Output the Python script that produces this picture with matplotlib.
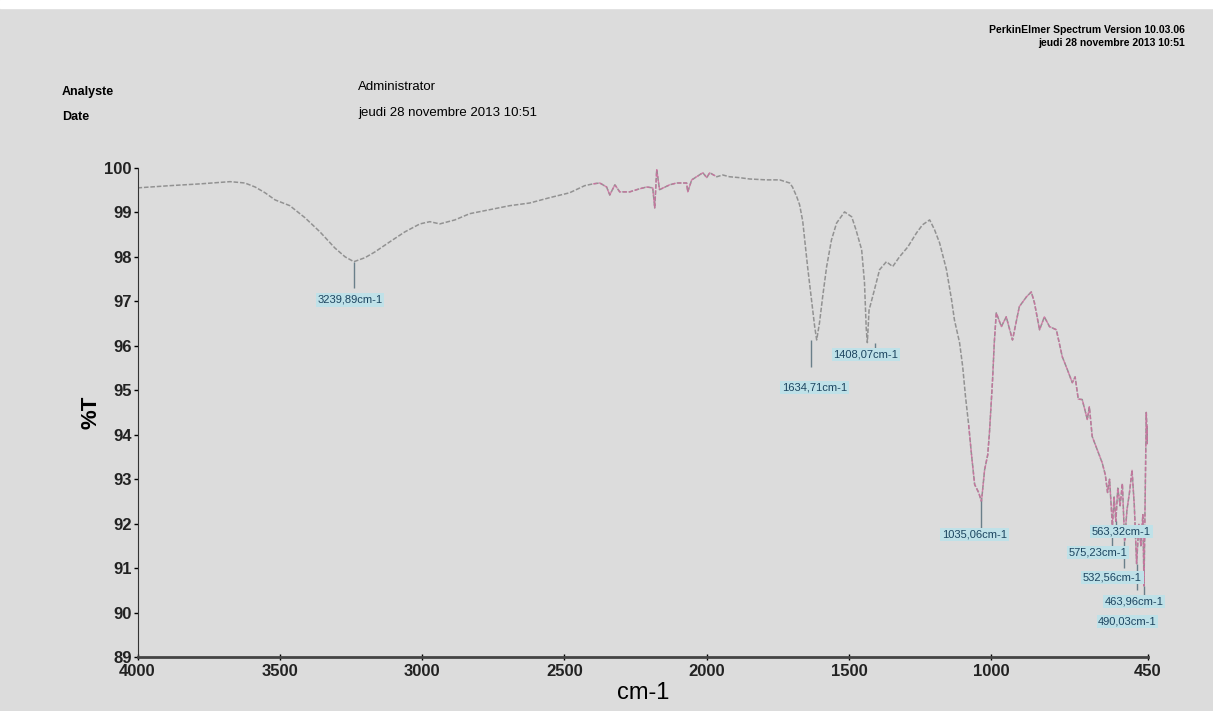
import numpy as np
import matplotlib.pyplot as plt
from matplotlib.patches import Rectangle

# spectre IR
wn = [4000, 3886, 3780, 3675, 3623, 3587, 3552, 3517, 3465, 3412, 3359, 3307,
      3271, 3240, 3201, 3166, 3113, 3061, 3008, 2973, 2938, 2885, 2833, 2762,
      2692, 2622, 2552, 2482, 2429, 2400, 2376, 2352, 2341, 2323, 2306, 2271,
      2236, 2211, 2190, 2183, 2176, 2166, 2130, 2106, 2071, 2067, 2053, 2036,
      2014, 2000, 1990, 1965, 1944, 1920, 1885, 1850, 1790, 1744, 1709, 1699,
      1684, 1674, 1663, 1646, 1632, 1621, 1614, 1604, 1593, 1579, 1562, 1544,
      1516, 1491, 1476, 1456, 1446, 1440, 1436, 1430, 1411, 1393, 1369, 1347,
      1323, 1294, 1263, 1242, 1217, 1200, 1182, 1158, 1140, 1130, 1112, 1101,
      1091, 1080, 1070, 1059, 1045, 1035, 1024, 1013, 1007, 996, 990, 983,
      965, 948, 926, 902, 877, 860, 849, 831, 814, 796, 772, 751, 733, 716,
      706, 695, 681, 663, 656, 646, 628, 611, 600, 592, 585, 575, 569, 563,
      556, 548, 540, 532, 524, 515, 506, 498, 490, 482, 475, 468, 464, 460,
      456, 452, 450]
trans = [99.55, 99.60, 99.64, 99.69, 99.66, 99.57, 99.44, 99.28, 99.15, 98.88, 98.56, 98.20,
         98.00, 97.89, 97.98, 98.11, 98.34, 98.56, 98.74, 98.79, 98.74, 98.83, 98.97, 99.06,
         99.15, 99.21, 99.33, 99.44, 99.60, 99.64, 99.66, 99.57, 99.39, 99.62, 99.46, 99.46,
         99.53, 99.57, 99.55, 99.10, 99.96, 99.51, 99.62, 99.66, 99.66, 99.46, 99.73, 99.80,
         99.89, 99.78, 99.89, 99.80, 99.84, 99.80, 99.78, 99.75, 99.73, 99.73, 99.66, 99.57,
         99.35, 99.17, 98.80, 97.78, 97.03, 96.43, 96.13, 96.52, 97.10, 97.78, 98.38, 98.76,
         99.01, 98.90, 98.61, 98.16, 97.42, 96.40, 96.07, 96.80, 97.26, 97.71, 97.89, 97.78,
         98.00, 98.22, 98.54, 98.72, 98.83, 98.61, 98.31, 97.71, 97.03, 96.58, 96.07, 95.53,
         94.85, 94.22, 93.55, 92.88, 92.70, 92.50, 93.21, 93.55, 94.04, 95.24, 96.07, 96.74,
         96.43, 96.65, 96.13, 96.88, 97.10, 97.21, 96.97, 96.36, 96.65, 96.43, 96.36, 95.75,
         95.46, 95.17, 95.30, 94.80, 94.79, 94.34, 94.63, 93.96, 93.66, 93.37, 93.10, 92.70,
         93.00, 91.95, 92.60, 92.05, 92.80, 92.40, 92.90, 91.60, 92.30, 92.70, 93.20, 92.40,
         91.10, 92.00, 91.50, 92.20, 90.60, 92.50, 94.50, 93.80, 94.20]

# pics annotés
pic_wn = [3239.89, 1634.71, 1408.07, 1035.06, 575.23, 563.32, 532.56, 490.03, 463.96]
pic_txt = ["3239,89cm-1", "1634,71cm-1", "1408,07cm-1", "1035,06cm-1", "575,23cm-1",
           "563,32cm-1", "532,56cm-1", "490,03cm-1", "463,96cm-1"]
pic_T = [97.89, 96.13, 96.07, 92.50, 91.95, 92.05, 91.60, 91.10, 90.60]
lab_x = [3254, 1621, 1442, 1059, 627, 543, 575, 522, 498]
lab_y = [97.03, 95.06, 95.80, 91.75, 91.35, 91.82, 90.79, 89.80, 90.25]

wn = np.array(wn)
trans = np.array(trans)

plt.rcParams['font.family'] = ['Liberation Sans', 'DejaVu Sans']
bg = "#dcdcdc"
fig = plt.figure(figsize=(12.13, 7.11), dpi=100, facecolor=bg)
ax = fig.add_axes([0.1134, 0.0759, 0.833, 0.688], facecolor=bg)

ax.plot(wn, trans, color="#8a8a8a", lw=1.1, ls=(0, (3, 1.2)), alpha=0.9)
rose = "#cf6fa0"
for lo, hi in [(1950, 2400), (450, 1080)]:
    m = (wn >= lo) & (wn <= hi)
    ax.plot(wn[m], trans[m], color=rose, lw=1.0, ls=(0, (3, 1.2)), alpha=0.8)

# repères + étiquettes des pics
for x, t, s, lx, ly in zip(pic_wn, pic_T, pic_txt, lab_x, lab_y):
    ax.vlines(x, max(ly + 0.15, t - 0.6), t, color="#6a7f8a", lw=1.0)
    ax.text(lx, ly, s, ha="center", va="center", fontsize=8, color="#1d4560",
            bbox=dict(boxstyle="square,pad=0.15", fc="#bfe1e8", ec="none"))

ax.set_xlim(4000, 450)
ax.set_ylim(89, 100)
ax.set_xticks([4000, 3500, 3000, 2500, 2000, 1500, 1000, 450])
ax.set_yticks(range(89, 101))
ax.tick_params(axis="y", labelsize=12, length=3, width=1, pad=1)
ax.tick_params(axis="x", labelsize=12, length=4, width=1, direction="inout", pad=3)
for lab in ax.get_xticklabels() + ax.get_yticklabels():
    lab.set_fontweight("bold")
    lab.set_color("#222222")
for side in ["top", "right"]:
    ax.spines[side].set_visible(False)
ax.spines["left"].set_color("#333333")
ax.spines["bottom"].set_color("#444444")
ax.spines["bottom"].set_linewidth(2)

ax.set_ylabel("%T", fontsize=16, fontweight="bold", labelpad=2)
ax.set_xlabel("cm-1", fontsize=17, labelpad=2)

# en-tête
fig.text(62 / 1213, 1 - 92 / 711, "Analyste", fontsize=9, fontweight="bold", va="center")
fig.text(62 / 1213, 1 - 117 / 711, "Date", fontsize=9, fontweight="bold", va="center")
fig.text(358 / 1213, 1 - 87 / 711, "Administrator", fontsize=9.5, va="center")
fig.text(358 / 1213, 1 - 113 / 711, "jeudi 28 novembre 2013 10:51", fontsize=9.5, va="center")
fig.text(1185 / 1213, 1 - 30 / 711, "PerkinElmer Spectrum Version 10.03.06", fontsize=7.5,
         fontweight="bold", ha="right", va="center")
fig.text(1185 / 1213, 1 - 43 / 711, "jeudi 28 novembre 2013 10:51", fontsize=7.5,
         fontweight="bold", ha="right", va="center")

fig.patches.append(Rectangle((0, 0.989), 1, 0.011, transform=fig.transFigure,
                             color="white", zorder=-1))

fig.savefig("out.png", dpi=100, facecolor=bg)
